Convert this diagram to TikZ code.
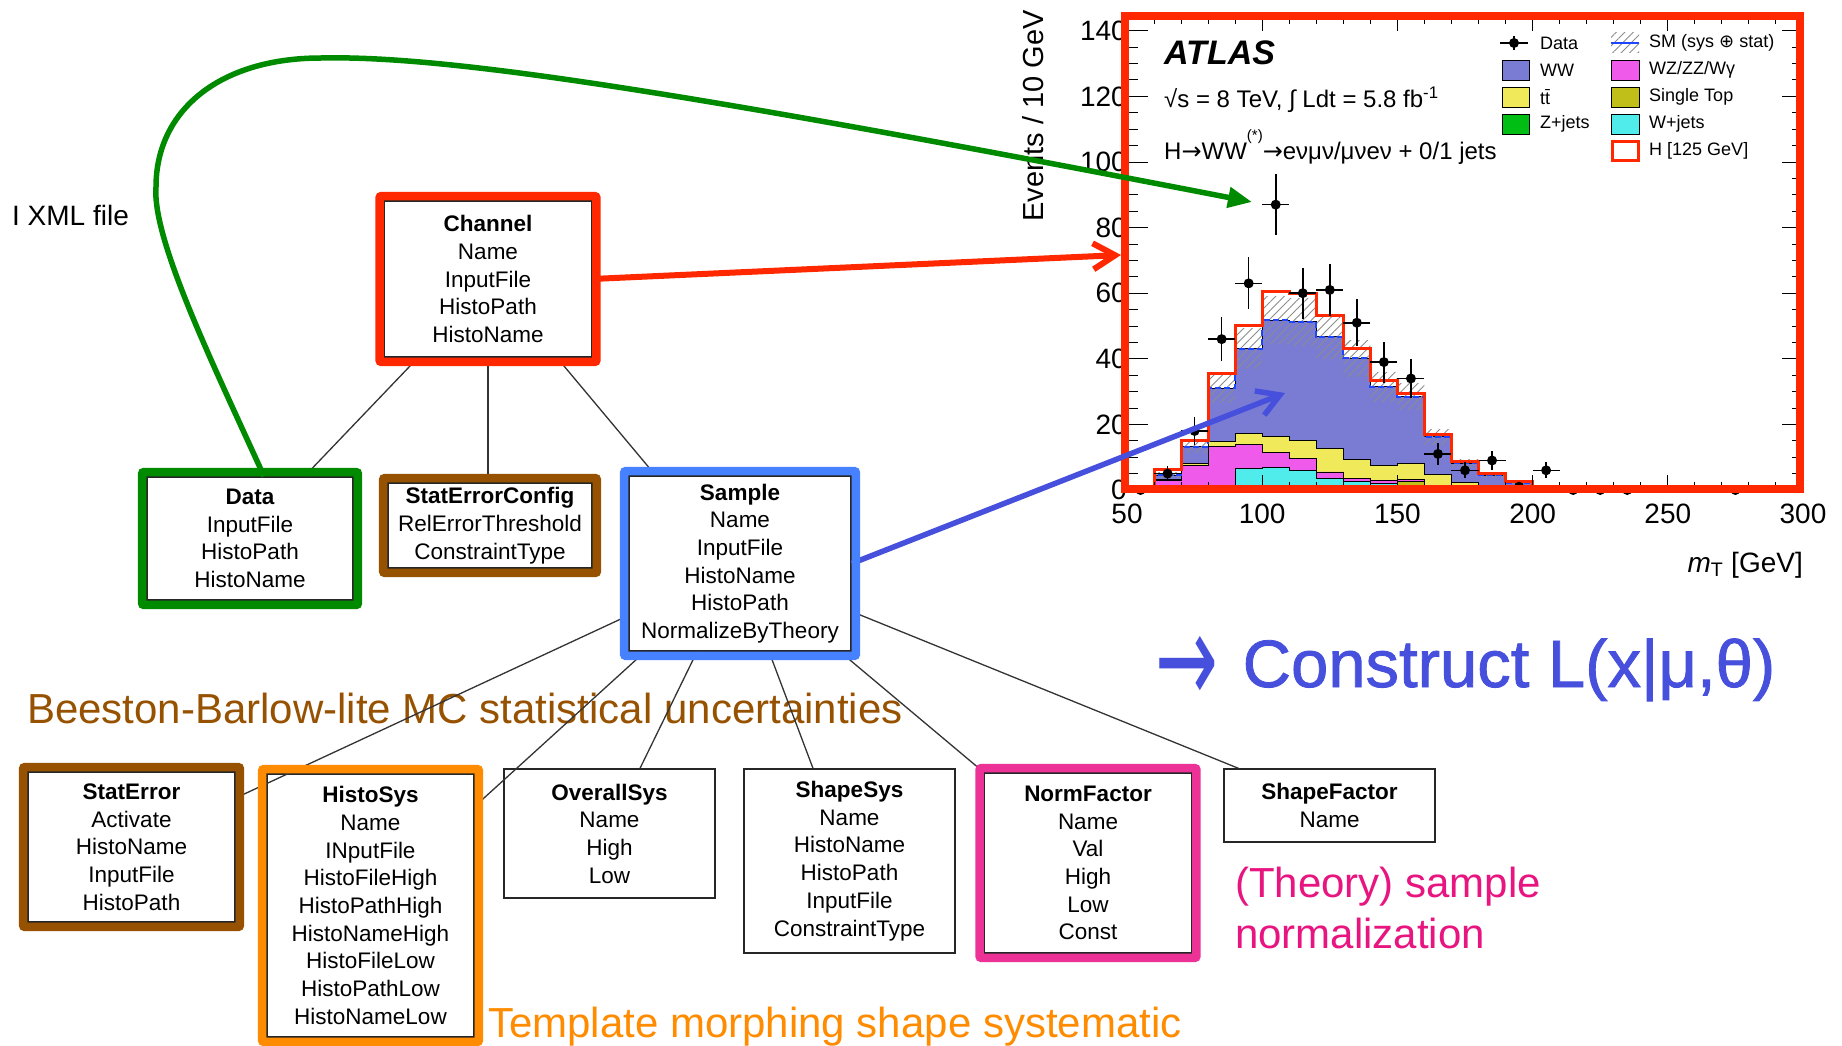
\documentclass[tikz,border=0pt]{standalone}
\usepackage{graphicx}
\usepackage{fontspec}
\setmainfont{Liberation Sans}
\newfontfamily\symfont{DejaVu Sans}
\newfontfamily\medfont{Liberation Sans}[FakeBold=1.2]
\usetikzlibrary{arrows.meta,positioning,fit,patterns.meta}
\definecolor{hlred}{RGB}{255,40,0}
\definecolor{hlgreen}{RGB}{0,138,0}
\definecolor{hlbrown}{RGB}{150,82,0}
\definecolor{hlblue}{RGB}{70,130,255}
\definecolor{hlorange}{RGB}{255,140,0}
\definecolor{hlpink}{RGB}{236,50,150}
\definecolor{txtpink}{RGB}{232,20,128}
\definecolor{arrblue}{RGB}{70,80,220}
\definecolor{wwfill}{RGB}{122,124,212}
\definecolor{ttfill}{RGB}{240,234,90}
\definecolor{zjfill}{RGB}{0,190,20}
\definecolor{wzfill}{RGB}{240,90,235}
\definecolor{stfill}{RGB}{192,190,24}
\definecolor{wjfill}{RGB}{80,236,236}
\definecolor{smblue}{RGB}{30,70,255}
\newcommand{\xmlfont}{\fontsize{22.5}{27.7}\selectfont}
\newcommand{\bigfont}{\fontsize{42}{51}\selectfont}
\newcommand{\tickfont}{\fontsize{28}{30}\selectfont}
\newcommand{\lgdfont}{\fontsize{18}{20}\selectfont}
\newcommand{\rarr}{{\symfont →}}

\begin{document}
\begin{tikzpicture}[x=1pt, y=-1pt,
  xmlbox/.style={draw=black!85, line width=1.3pt, fill=white, align=center, font=\xmlfont, inner sep=0pt},
  hl/.style={draw=#1, line width=8.5pt, rounded corners=2pt},
  link/.style={draw=black!80, line width=1.3pt},
  note/.style={anchor=base west, inner sep=0pt, font=\bigfont},
  ticklbl/.style={inner sep=0pt, font=\tickfont},
  lgd/.style={anchor=west, inner sep=0pt, font=\lgdfont},
  lgdbox/.style={draw=black, line width=0.8pt},
  band/.style={pattern={Lines[angle=45,distance=6pt,line width=0.9pt]}, pattern color=black!45}
]
  \path[use as bounding box, fill=white] (0,0) rectangle (1842,1046);

  %% ATLAS plot
  \begin{scope}[shift={(991.8,490)}, x=2.704pt, y=3.28pt]
    %% stacked backgrounds, top of the stack first
    \filldraw[fill=wwfill, line width=0.8pt] (50,0) -- plot[const plot mark left] coordinates {(50,0.3) (60,4.6) (70,13.2) (80,31) (90,43.1) (100,51.8) (110,51.3) (120,46.7) (130,40.1) (140,31.5) (150,28.5) (160,16.2) (170,8.1) (180,4.6) (190,2.2) (200,0.3) (210,0)} -- cycle;
    \filldraw[fill=ttfill, line width=0.8pt] (60,0) -- plot[const plot mark left] coordinates {(60,3.3) (70,8.0) (80,14.7) (90,17.3) (100,16.3) (110,15.2) (120,12.7) (130,9.3) (140,7.6) (150,8.2) (160,4.7) (170,2.2) (180,0.8) (190,0.4) (200,0)} -- cycle;
    \filldraw[fill=wzfill, line width=0.8pt] (60,0) -- plot[const plot mark left] coordinates {(60,3.0) (70,7.5) (80,13.2) (90,13.8) (100,11.5) (110,9.5) (120,5.5) (130,3.5) (140,3.0) (150,3.3) (160,1.3) (170,0.7) (180,0.4) (190,0.2) (200,0)} -- cycle;
    \filldraw[fill=wjfill, line width=0.8pt] (60,0) -- plot[const plot mark left] coordinates {(60,1.2) (70,0.9) (80,1.2) (90,6.5) (100,6.8) (110,6.0) (120,3.5) (130,2.5) (140,2.0) (150,2.7) (160,1.0) (170,0.5) (180,0.3) (190,0.2) (200,0)} -- cycle;
    \filldraw[fill=stfill, line width=0.8pt] (60,0) -- plot[const plot mark left] coordinates {(60,0.5) (70,0.6) (80,0.8) (90,1.2) (100,1.2) (110,1.0) (120,0.8) (130,1.5) (140,1.0) (150,2.5) (160,0.8) (170,0.3) (180,0.2) (190,0.1) (200,0)} -- cycle;
    \filldraw[fill=zjfill, line width=0.8pt] (60,0) -- plot[const plot mark left] coordinates {(60,0.3) (70,0.3) (80,0.4) (90,0.5) (100,0.5) (110,0.4) (120,0.3) (130,0.3) (140,0.2) (150,0.2) (160,0.2) (170,0.1) (180,0.1) (190,0)} -- cycle;
    %% uncertainty band and SM line
    \foreach \b/\v in {60/4.6,70/13.2,80/31,90/43.1,100/51.8,110/51.3,120/46.7,130/40.1,140/31.5,150/28.5,160/16.2,170/8.1,180/4.6,190/2.2}
      \fill[band] (\b,{0.86*\v}) rectangle ({\b+10},{1.14*\v});
    \draw[smblue, line width=2pt, dash pattern=on 6pt off 3pt] plot[const plot mark left] coordinates {(50,0.3) (60,4.6) (70,13.2) (80,31) (90,43.1) (100,51.8) (110,51.3) (120,46.7) (130,40.1) (140,31.5) (150,28.5) (160,16.2) (170,8.1) (180,4.6) (190,2.2) (200,0.3) (210,0)};
    %% signal on top
    \draw[hlred, line width=3pt] plot[const plot mark left] coordinates {(50,0.5) (60,6.1) (70,15.2) (80,35.5) (90,50.3) (100,60.4) (110,59.9) (120,53.3) (130,43.1) (140,33.5) (150,29.5) (160,16.8) (170,8.6) (180,5.1) (190,2.5) (200,0.4) (210,0) (300,0)};
    %% data
    \foreach \m/\n in {55/0,65/5,75/18,85/46,95/63,105/87,115/60,125/61,135/51,145/39,155/34,165/11,175/6,185/9,195/1,205/6,215/0,225/0,235/0,275/0} {
      \draw[line width=1.6pt] ({\m-5},\n) -- ({\m+5},\n) (\m,{\n-sqrt(\n)}) -- (\m,{\n+sqrt(\n)});
      \fill (\m,\n) circle[radius=5pt];
    }
    %% axes
    \draw[line width=1pt] (50,0) rectangle (300,144.5);
    \foreach \n in {5,10,...,140} {\draw[line width=1pt] (50,\n) -- ++(11pt,0pt); \draw[line width=1pt] (300,\n) -- ++(-11pt,0pt);}
    \foreach \n in {20,40,...,140} {\draw[line width=1pt] (50,\n) -- ++(21pt,0pt); \draw[line width=1pt] (300,\n) -- ++(-21pt,0pt);}
    \foreach \m in {60,70,...,290} {\draw[line width=1pt] (\m,0) -- ++(0pt,8pt); \draw[line width=1pt] (\m,144.5) -- ++(0pt,-8pt);}
    \foreach \m in {100,150,200,250} {\draw[line width=1pt] (\m,0) -- ++(0pt,15pt); \draw[line width=1pt] (\m,144.5) -- ++(0pt,-15pt);}
    \foreach \n in {0,20,...,140} \node[ticklbl, anchor=east] at (50,\n) {\n};
    \foreach \m in {50,100,...,300} \node[ticklbl] at (\m,-7.3) {\m};
  \end{scope}
  \node[rotate=90, anchor=base, inner sep=0pt, font=\fontsize{29}{29}\selectfont] (ytitle) at (1043,116) {Events / 10 GeV};
  \node[anchor=base east, inner sep=0pt, font=\fontsize{28}{28}\selectfont] (xtitle) at (1803,572) {\textit{m}\textsubscript{T} [GeV]};
  \node[anchor=base west, inner sep=0pt, font=\fontsize{34}{34}\selectfont\bfseries\itshape] (atlas) at (1164,65) {ATLAS};
  \node[anchor=base west, inner sep=0pt, font=\fontsize{24}{24}\selectfont] (energy) at (1164,108) {√s = 8 TeV, ∫ Ldt = 5.8 fb\textsuperscript{-1}};
  \node[anchor=base west, inner sep=0pt, font=\fontsize{24}{24}\selectfont] (process) at (1164,160) {H\rarr WW\raisebox{0.8em}{\fontsize{15}{15}\selectfont(*)}\rarr eνμν/μνeν + 0/1 jets};
  %% legend
  \draw[line width=1.5pt] (1500,43) -- (1528,43) (1514,36) -- (1514,50);
  \fill (1514,43) circle[radius=5pt];
  \node[lgd] at (1540,43) {Data};
  \filldraw[lgdbox, fill=wwfill] (1502,60) rectangle (1529,80);
  \node[lgd] at (1540,70) {WW};
  \filldraw[lgdbox, fill=ttfill] (1502,87) rectangle (1529,107);
  \node[lgd] at (1540,97) {t\=t};
  \filldraw[lgdbox, fill=zjfill] (1502,114) rectangle (1529,134);
  \node[lgd] at (1540,124) {Z+jets};
  \fill[band] (1611,33) rectangle (1639,53);
  \draw[smblue, line width=2pt] (1611,43) -- (1639,43);
  \node[lgd] at (1649,43) {SM (sys {\symfont ⊕} stat)};
  \filldraw[lgdbox, fill=wzfill] (1611,60) rectangle (1639,80);
  \node[lgd] at (1649,70) {WZ/ZZ/Wγ};
  \filldraw[lgdbox, fill=stfill] (1611,87) rectangle (1639,107);
  \node[lgd] at (1649,97) {Single Top};
  \filldraw[lgdbox, fill=wjfill] (1611,114) rectangle (1639,134);
  \node[lgd] at (1649,124) {W+jets};
  \draw[hlred, line width=3pt] (1612,142) rectangle (1638,161);
  \node[lgd] at (1649,151) {H [125 GeV]};
  \draw[hlred, line width=8pt] (1125,16) rectangle (1800,489);

  %% notes
  \node[note, font=\fontsize{28}{30}\selectfont] (xmlfile) at (12,225) {I XML file};
  \node[note, text=hlbrown] (bbnote) at (27,723) {Beeston-Barlow-lite MC statistical uncertainties};
  \node[note, text=hlorange] (tmnote) at (488,1037) {Template morphing shape systematic};
  \node[note, text=txtpink] (normnote) at (1235,897) {(Theory) sample};
  \node[note, text=txtpink] (normnote2) at (1235,948) {normalization};
  \node[note, text=arrblue, font=\fontsize{67}{70}\medfont] (likelihood) at (1155,687) {\raisebox{-16pt}{\scalebox{1.12}[1.9]{\rarr}}\hspace{6pt} Construct L(x|μ,θ)};

  %% XML tree
  \coordinate (channelc) at (488,279);
  \coordinate (samplec) at (740,563.5);
  \node[xmlbox, minimum width=207pt, minimum height=156pt] (channel) at (channelc) {\textbf{Channel}\\Name\\InputFile\\HistoPath\\HistoName};
  \node[xmlbox, minimum width=206pt, minimum height=123pt] (data) at (250,538.5) {\textbf{Data}\\InputFile\\HistoPath\\HistoName};
  \node[xmlbox, minimum width=204pt, minimum height=85pt] (statcfg) at (490,525.5) {\textbf{StatErrorConfig}\\RelErrorThreshold\\ConstraintType};
  \node[xmlbox, minimum width=222pt, minimum height=175pt] (sample) at (samplec) {\textbf{Sample}\\Name\\InputFile\\HistoName\\HistoPath\\NormalizeByTheory};
  \node[xmlbox, minimum width=207pt, minimum height=150pt] (staterr) at (131.5,847) {\textbf{StatError}\\Activate\\HistoName\\InputFile\\HistoPath};
  \node[xmlbox, minimum width=207pt, minimum height=263pt] (histosys) at (370.5,905.5) {\textbf{HistoSys}\\Name\\INputFile\\HistoFileHigh\\HistoPathHigh\\HistoNameHigh\\HistoFileLow\\HistoPathLow\\HistoNameLow};
  \node[xmlbox, minimum width=211pt, minimum height=129pt] (overallsys) at (609.5,833.5) {\textbf{OverallSys}\\Name\\High\\Low};
  \node[xmlbox, minimum width=211pt, minimum height=184pt] (shapesys) at (849.5,861) {\textbf{ShapeSys}\\Name\\HistoName\\HistoPath\\InputFile\\ConstraintType};
  \node[xmlbox, minimum width=207pt, minimum height=180pt] (normfactor) at (1088,863) {\textbf{NormFactor}\\Name\\Val\\High\\Low\\Const};
  \node[xmlbox, minimum width=211pt, minimum height=73pt] (shapefactor) at (1329.5,805.5) {\textbf{ShapeFactor}\\Name};
  %% tree links
  \draw[link] ([xshift=-70pt]channel.south) -- ([xshift=54.5pt]data.north);
  \draw[link] (channel.south) -- (channel.south |- statcfg.north);
  \draw[link] ([xshift=69pt]channel.south) -- ([xshift=-84.5pt]sample.north);
  \draw[link] ([yshift=-52pt]sample.west) -- ([yshift=49pt]staterr.east);
  \draw[link] ([xshift=-95pt]sample.south) -- ([yshift=99pt]histosys.east);
  \draw[link] ([xshift=-43pt]sample.south) -- ([xshift=30.5pt]overallsys.north);
  \draw[link] ([xshift=29pt]sample.south) -- ([xshift=-36.5pt]shapesys.north);
  \draw[link] ([xshift=100pt]sample.south) -- (normfactor.north west);
  \draw[link] ([yshift=-48pt]sample.east) -- ([xshift=-91pt]shapefactor.north);

  %% arrows into the plot
  \coordinate (obsbump) at (1252,202);
  \coordinate (plotedge) at (1121,255);
  \coordinate (wwstack) at (1285,393);
  \draw[hlgreen, line width=5.5pt, -{Triangle[length=24pt,width=20pt]}] ([xshift=14pt]data.north) .. controls (215,368) and (152,240) .. (156,187) .. controls (156,110) and (220,58) .. (321,58) .. controls (450,55) and (700,95) .. (obsbump);
  \draw[hlred, line width=6pt, -{Straight Barb[length=22pt,width=26pt]}] (channel.east) -- (plotedge);
  \draw[arrblue, line width=5.5pt, -{Straight Barb[length=22pt,width=26pt]}] (sample.east) -- (wwstack);

  %% highlight frames
  \draw[hl=hlred] ([xshift=-4.3pt,yshift=4.3pt]channel.north west) rectangle ([xshift=4.3pt,yshift=-4.3pt]channel.south east);
  \draw[hl=hlgreen] ([xshift=-4.3pt,yshift=4.3pt]data.north west) rectangle ([xshift=4.3pt,yshift=-4.3pt]data.south east);
  \draw[hl=hlbrown] ([xshift=-4.3pt,yshift=4.3pt]statcfg.north west) rectangle ([xshift=4.3pt,yshift=-4.3pt]statcfg.south east);
  \draw[hl=hlblue] ([xshift=-4.3pt,yshift=4.3pt]sample.north west) rectangle ([xshift=4.3pt,yshift=-4.3pt]sample.south east);
  \draw[hl=hlbrown] ([xshift=-4.3pt,yshift=4.3pt]staterr.north west) rectangle ([xshift=4.3pt,yshift=-4.3pt]staterr.south east);
  \draw[hl=hlorange] ([xshift=-4.3pt,yshift=4.3pt]histosys.north west) rectangle ([xshift=4.3pt,yshift=-4.3pt]histosys.south east);
  \draw[hl=hlpink] ([xshift=-4.3pt,yshift=4.3pt]normfactor.north west) rectangle ([xshift=4.3pt,yshift=-4.3pt]normfactor.south east);
\end{tikzpicture}
\end{document}
